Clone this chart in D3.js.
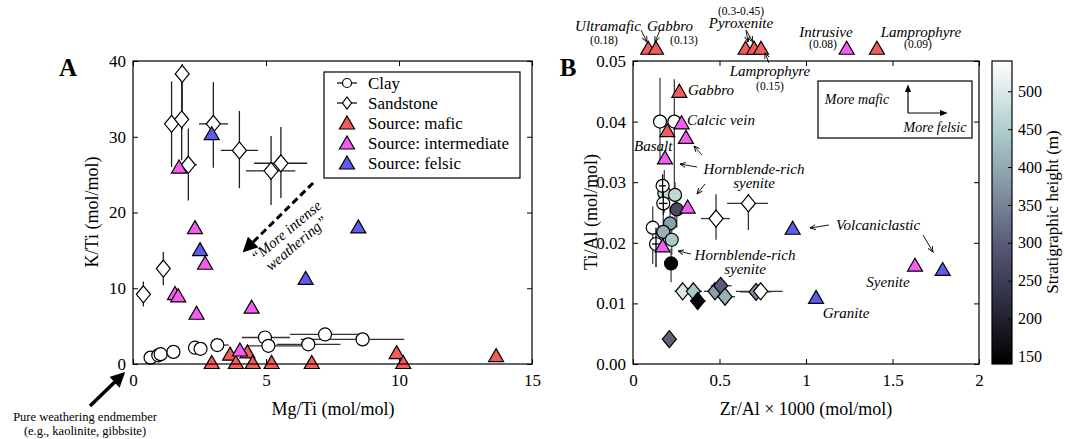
<!DOCTYPE html>
<html>
<head>
<meta charset="utf-8">
<script src="https://cdn.jsdelivr.net/npm/d3@7"></script>
<style>
  body { margin: 0; background: #fff; }
  text { font-family: "Liberation Serif", "Times New Roman", Times, "DejaVu Serif", serif; fill: #000; }
  .it { font-style: italic; }
</style>
</head>
<body>
<div class="chart"></div>
<script>
// ---- panel A : Mg/Ti vs K/Ti  [x, y, xLo, xHi, yLo, yHi]
let clayA = [
  [0.66, 0.84], [0.95, 1.15], [1.04, 1.3], [1.52, 1.6], [2.33, 2.15], [2.54, 2.0],
  [3.17, 2.5, 2.9, 3.6], [4.96, 3.5, 4.09, 5.9], [5.09, 2.4, 4.3, 6.4],
  [6.59, 2.6, 5.4, 7.8], [7.22, 3.9, 5.9, 8.5], [8.63, 3.25, 6.3, 10.2]
];
let sandA = [
  [0.39, 9.2, null, null, 7.6, 10.9],
  [1.14, 12.6, null, null, 10.4, 14.8],
  [1.45, 31.7, null, null, 26.0, 37.3],
  [1.83, 32.3, null, null, 26.9, 38.4],
  [1.85, 38.3, null, null, 31.0, 39.6],
  [2.08, 26.3, 1.9, 2.4, 21.6, 31.1],
  [3.02, 31.7, 2.48, 3.57, 25.9, 37.2],
  [4.0, 28.2, 3.3, 4.7, 23.2, 33.4],
  [5.19, 25.5, 4.25, 6.1, 21.0, 30.1],
  [5.56, 26.5, 4.55, 6.55, 21.9, 31.3]
];
let maficA = [[2.96, 0.2], [3.65, 1.3], [3.87, 0.2], [4.3, 1.6], [4.5, 0.2], [5.21, 0.2],
  [6.72, 0.2], [9.91, 1.5], [10.16, 0.2], [13.65, 1.1]];
let interA = [[1.73, 26.0], [2.33, 18.0], [2.71, 13.3], [1.58, 9.3], [1.7, 9.0], [2.39, 6.7],
  [4.46, 7.5], [4.02, 1.85]];
let felsicA = [[2.96, 30.4], [2.52, 15.1], [6.49, 11.3], [8.47, 18.1]];

// ---- panel B : Zr/Al*1000 vs Ti/Al  [x, y, stratHeight, xLo, xHi, yLo, yHi]
let clayB = [
  [0.156, 0.0400, 535, null, null, 0.0335, 0.0472],
  [0.239, 0.0400, 535, null, null, 0.0290, 0.0470],
  [0.181, 0.0282, 470, null, null, 0.0250, 0.0320],
  [0.243, 0.0279, 470, null, null, 0.0240, 0.0300],
  [0.253, 0.0255, 270, null, null, 0.0225, 0.0290],
  [0.114, 0.0225, 535, null, null, 0.0165, 0.0260],
  [0.214, 0.0232, 387, null, null, 0.0200, 0.0260],
  [0.175, 0.0218, 412, null, null, 0.0190, 0.0245],
  [0.224, 0.0205, 444, null, null, 0.0180, 0.0235],
  [0.220, 0.0166, 145, null, null, 0.0135, 0.0190]
];
let clayCrossB = [
  [0.171, 0.0294, 535, 0.150, 0.190, 0.0275, 0.0313],
  [0.175, 0.0265, 535, 0.150, 0.200, 0.0245, 0.0285],
  [0.133, 0.0198, 535, 0.110, 0.155, 0.0160, 0.0225]
];
let sandB = [
  [0.480, 0.0240, 540, 0.393, 0.560, 0.0205, 0.0280],
  [0.667, 0.0265, 540, 0.544, 0.780, 0.0221, 0.0281],
  [0.287, 0.0120, 500, 0.240, 0.330, 0.0108, 0.0132],
  [0.349, 0.0120, 440, 0.300, 0.400, 0.0108, 0.0132],
  [0.374, 0.0104, 150, 0.330, 0.420, 0.0095, 0.0113],
  [0.474, 0.0120, 387, 0.410, 0.550, 0.0107, 0.0135],
  [0.507, 0.0129, 300, 0.450, 0.570, 0.0117, 0.0141],
  [0.532, 0.0111, 412, 0.480, 0.590, 0.0100, 0.0122],
  [0.711, 0.0119, 360, 0.620, 0.800, 0.0110, 0.0128],
  [0.738, 0.0120, 540, 0.595, 0.865, 0.0110, 0.0131],
  [0.210, 0.0041, 308, null, null, null, null]
];
let maficB = [[0.268, 0.0450], [0.198, 0.0385],
  [0.088, 0.0521], [0.133, 0.0521], [0.651, 0.0521], [0.70, 0.0521], [0.74, 0.0521], [1.41, 0.0521]];
let interB = [[0.281, 0.0398], [0.306, 0.0374], [0.185, 0.0340], [0.316, 0.0259], [0.171, 0.0195],
  [1.63, 0.0163], [1.235, 0.0521]];
let felsicB = [[0.923, 0.0224], [1.058, 0.0110], [1.79, 0.0156]];

let xTicksA = [0, 5, 10, 15];
let yTicksA = [0, 10, 20, 30, 40];
let xTicksB = [0, 0.5, 1, 1.5, 2];
let yTicksB = [0, 0.01, 0.02, 0.03, 0.04, 0.05];
let cbTicks = [150, 200, 250, 300, 350, 400, 450, 500];
let heightRange = [140, 540];
let legendLabels = ['Clay', 'Sandstone', 'Source: mafic', 'Source: intermediate', 'Source: felsic'];

let colMafic = '#f35c5c', colInter = '#f55cf2', colFelsic = '#5c5ced';
let serif = '"Liberation Serif", "Times New Roman", Times, "DejaVu Serif", serif';

// matplotlib "bone" colormap
function bone(t) {
  t = Math.max(0, Math.min(1, t));
  let r = t < 0.746 ? 0.6528 * t / 0.746 : 0.6528 + (t - 0.746) * 0.3472 / 0.254;
  let g = t < 0.365 ? 0.3194 * t / 0.365
    : t < 0.746 ? 0.3194 + (t - 0.365) * 0.4584 / 0.381
    : 0.7778 + (t - 0.746) * 0.2222 / 0.254;
  let b = t < 0.365 ? 0.4444 * t / 0.365 : 0.4444 + (t - 0.365) * 0.5556 / 0.635;
  return d3.rgb(r * 255, g * 255, b * 255).formatHex();
}
let tScale = d3.scaleLinear().domain(heightRange).range([0, 1]);
let heightColor = h => bone(tScale(h));

let svg = d3.select('.chart')
  .append('svg')
  .attr('width', 1066)
  .attr('height', 439);

let defs = svg.append('defs');
defs.append('marker').attr('id', 'thin')
  .attr('viewBox', '0 0 10 10').attr('refX', 9).attr('refY', 5)
  .attr('markerWidth', 7).attr('markerHeight', 7).attr('orient', 'auto')
  .attr('markerUnits', 'userSpaceOnUse')
  .append('path').attr('d', 'M1,1.5 L9,5 L1,8.5')
  .attr('fill', 'none').attr('stroke', '#000').attr('stroke-width', 1.3);
defs.append('marker').attr('id', 'fat')
  .attr('viewBox', '0 0 10 10').attr('refX', 8).attr('refY', 5)
  .attr('markerWidth', 15).attr('markerHeight', 15).attr('orient', 'auto')
  .attr('markerUnits', 'userSpaceOnUse')
  .append('path').attr('d', 'M0,0 L10,5 L0,10 Z').attr('fill', '#000');
defs.append('marker').attr('id', 'small')
  .attr('viewBox', '0 0 10 10').attr('refX', 8).attr('refY', 5)
  .attr('markerWidth', 8).attr('markerHeight', 8).attr('orient', 'auto')
  .attr('markerUnits', 'userSpaceOnUse')
  .append('path').attr('d', 'M0,1 L10,5 L0,9 Z').attr('fill', '#000');

let grad = defs.append('linearGradient').attr('id', 'boneGrad')
  .attr('x1', 0).attr('y1', 1).attr('x2', 0).attr('y2', 0);
d3.range(0, 1.0001, 0.05).forEach(t => {
  grad.append('stop').attr('offset', t).attr('stop-color', bone(t));
});

// marker shapes
let triPath = 'M0,-7 L7.5,6 L-7.5,6 Z';
let diaPath = 'M0,-8.5 L7,0 L0,8.5 L-7,0 Z';

function errorBars(g, data, xs, ys, color) {
  data.forEach(d => {
    let n = d.length, xLo = null, xHi = null, yLo = null, yHi = null;
    if (n === 4 || n === 6) { xLo = d[2]; xHi = d[3]; }
    if (n === 6) { yLo = d[4]; yHi = d[5]; }
    if (n === 7) { xLo = d[3]; xHi = d[4]; yLo = d[5]; yHi = d[6]; }
    if (xLo != null) {
      g.append('line').attr('x1', xs(xLo)).attr('x2', xs(xHi))
        .attr('y1', ys(d[1])).attr('y2', ys(d[1]))
        .style('stroke', color).style('stroke-width', 1.3);
    }
    if (yLo != null) {
      g.append('line').attr('x1', xs(d[0])).attr('x2', xs(d[0]))
        .attr('y1', ys(yLo)).attr('y2', ys(yHi))
        .style('stroke', color).style('stroke-width', 1.3);
    }
  });
}

function marks(g, data, xs, ys, path, fill) {
  g.selectAll(null)
    .data(data)
    .enter()
    .append(path === 'circle' ? 'circle' : 'path')
    .each(function (d) {
      let s = d3.select(this);
      if (path === 'circle') s.attr('cx', xs(d[0])).attr('cy', ys(d[1])).attr('r', 6.5);
      else s.attr('d', path).attr('transform', `translate(${xs(d[0])},${ys(d[1])})`);
    })
    .style('fill', typeof fill === 'function' ? fill : () => fill)
    .style('stroke', '#000')
    .style('stroke-width', 1.2);
}

function frame(x, y, xTicks, yTicks, xFmt, yFmt) {
  let [x0, x1] = x.range(), [y0, y1] = y.range();
  let axB = svg.append('g').attr('transform', `translate(0,${y0})`)
    .call(d3.axisBottom(x).tickValues(xTicks).tickFormat(xFmt).tickSizeInner(-5).tickSizeOuter(0).tickPadding(10));
  let axT = svg.append('g').attr('transform', `translate(0,${y1})`)
    .call(d3.axisTop(x).tickValues(xTicks).tickFormat('').tickSizeInner(-5).tickSizeOuter(0));
  let axL = svg.append('g').attr('transform', `translate(${x0},0)`)
    .call(d3.axisLeft(y).tickValues(yTicks).tickFormat(yFmt).tickSizeInner(-5).tickSizeOuter(0).tickPadding(7));
  let axR = svg.append('g').attr('transform', `translate(${x1},0)`)
    .call(d3.axisRight(y).tickValues(yTicks).tickFormat('').tickSizeInner(-5).tickSizeOuter(0));
  [axB, axT, axL, axR].forEach(a => {
    a.attr('font-family', null);
    a.select('.domain').remove();
    a.selectAll('text').style('font-family', serif).style('font-size', '17px');
    a.selectAll('line').style('stroke', '#000');
  });
  svg.append('rect').attr('x', x0).attr('y', y1).attr('width', x1 - x0).attr('height', y0 - y1)
    .style('fill', 'none').style('stroke', '#000').style('stroke-width', 1.2);
}

function label(x, y, txt, size, cls, anchor) {
  return svg.append('text').attr('x', x).attr('y', y)
    .attr('class', cls || null)
    .style('font-family', serif)
    .style('font-size', size + 'px')
    .style('text-anchor', anchor || 'middle')
    .text(txt);
}

function arrow(x1, y1, x2, y2, head, w, dash) {
  return svg.append('line').attr('x1', x1).attr('y1', y1).attr('x2', x2).attr('y2', y2)
    .style('stroke', '#000').style('stroke-width', w || 1)
    .style('stroke-dasharray', dash || null)
    .attr('marker-end', `url(#${head})`);
}

// ================= panel A =================
let xA = d3.scaleLinear().domain([0, 15]).range([133, 532]);
let yA = d3.scaleLinear().domain([0, 40]).range([364, 61]);

let gA = svg.append('g');
errorBars(gA, sandA, xA, yA, '#222');
errorBars(gA, clayA, xA, yA, '#333');
marks(gA, sandA, xA, yA, diaPath, '#fff');
marks(gA, clayA, xA, yA, 'circle', '#fff');
marks(gA, maficA, xA, yA, triPath, colMafic);
marks(gA, interA, xA, yA, triPath, colInter);
marks(gA, felsicA, xA, yA, triPath, colFelsic);

frame(xA, yA, xTicksA, yTicksA, d3.format('d'), d3.format('d'));

// legend
let leg = svg.append('g');
leg.append('rect').attr('x', 324).attr('y', 72).attr('width', 196).attr('height', 106)
  .style('fill', '#fff').style('stroke', '#000').style('stroke-width', 1.2);
legendLabels.forEach((lab, i) => {
  let cy = 83 + i * 20;
  if (i < 2) {
    leg.append('line').attr('x1', 337).attr('x2', 357).attr('y1', cy).attr('y2', cy)
      .style('stroke', '#000').style('stroke-width', 1.2);
  }
  let m;
  if (i === 0) m = leg.append('circle').attr('cx', 347).attr('cy', cy).attr('r', 4.5);
  else if (i === 1) m = leg.append('path').attr('d', 'M0,-6 L4.5,0 L0,6 L-4.5,0 Z').attr('transform', `translate(347,${cy})`);
  else m = leg.append('path').attr('d', triPath).attr('transform', `translate(347,${cy})`);
  m.style('fill', ['#fff', '#fff', colMafic, colInter, colFelsic][i])
    .style('stroke', '#000').style('stroke-width', 1.2);
  leg.append('text').attr('x', 368).attr('y', cy + 6)
    .style('font-family', serif).style('font-size', '17px').text(lab);
});

// weathering arrow + note
arrow(xA(6.77), yA(23.9), xA(4.2), yA(15.0), 'fat', 3, '7,4');
let wt = svg.append('g').attr('transform', 'translate(292,238) rotate(-40)');
wt.append('text').attr('y', -4).attr('class', 'it').style('font-family', serif).style('font-size', '15px')
  .style('text-anchor', 'middle').text('\u201CMore intense');
wt.append('text').attr('y', 12).attr('class', 'it').style('font-family', serif).style('font-size', '15px')
  .style('text-anchor', 'middle').text('weathering\u201D');

arrow(90, 406, 123, 374, 'fat', 3.5);
label(85, 421, 'Pure weathering endmember', 12.5);
label(85, 435, '(e.g., kaolinite, gibbsite)', 12.5);

label(333, 415, 'Mg/Ti (mol/mol)', 18);
label(0, 0, 'K/Ti (mol/mol)', 18).attr('transform', 'translate(98,212) rotate(-90)');
label(68, 76, 'A', 25).style('font-weight', 'bold');

// ================= panel B =================
let xB = d3.scaleLinear().domain([0, 2]).range([633, 979]);
let yB = d3.scaleLinear().domain([0, 0.05]).range([364, 61]);

let gB = svg.append('g');
errorBars(gB, clayB, xB, yB, '#444');
marks(gB, clayB, xB, yB, 'circle', d => heightColor(d[2]));
marks(gB, clayCrossB, xB, yB, 'circle', d => heightColor(d[2]));
errorBars(gB, clayCrossB, xB, yB, '#000');
errorBars(gB, sandB, xB, yB, '#333');
marks(gB, sandB, xB, yB, diaPath, d => heightColor(d[2]));
marks(gB, maficB, xB, yB, triPath, colMafic);
marks(gB, interB, xB, yB, triPath, colInter);
marks(gB, felsicB, xB, yB, triPath, colFelsic);

frame(xB, yB, xTicksB, yTicksB, d3.format('~g'), d3.format('.2f'));

// inset box
svg.append('rect').attr('x', 818).attr('y', 81).attr('width', 154).attr('height', 57)
  .style('fill', '#fff').style('stroke', '#000').style('stroke-width', 1.2);
arrow(908, 113, 908, 86, 'small', 1.2);
arrow(908, 113, 946, 113, 'small', 1.2);
label(857, 104, 'More mafic', 14, 'it');
label(935, 132, 'More felsic', 14, 'it');

// annotations above the axes
label(608, 31, 'Ultramafic', 15, 'it');
label(604, 44, '(0.18)', 11.5);
label(670, 31, 'Gabbro', 15, 'it');
label(684, 44, '(0.13)', 11.5);
arrow(641, 30, 647, 42, 'thin', 0.9);
arrow(660, 30, 655, 42, 'thin', 0.9);
label(741, 15, '(0.3-0.45)', 11.5);
label(741, 28, 'Pyroxenite', 15, 'it');
arrow(746, 30, 748, 42, 'thin', 0.9);
arrow(746, 30, 753, 42, 'thin', 0.9);
label(826, 37, 'Intrusive', 15, 'it');
label(823, 48, '(0.08)', 11.5);
label(921, 37, 'Lamprophyre', 15, 'it');
label(918, 48, '(0.09)', 11.5);
label(770, 76, 'Lamprophyre', 15, 'it');
label(770, 90, '(0.15)', 11.5);
arrow(769, 63, 765, 53, 'thin', 0.9);

// annotations inside panel B
label(688, 95, 'Gabbro', 15, 'it', 'start');
label(687, 125, 'Calcic vein', 15, 'it', 'start');
label(634, 151, 'Basalt', 15, 'it', 'start');
label(754, 174, 'Hornblende-rich', 15, 'it');
label(754, 188, 'syenite', 15, 'it');
arrow(702, 155, 694, 146, 'thin', 0.9);
arrow(697, 167, 680, 164, 'thin', 0.9);
arrow(705, 184, 697, 194, 'thin', 0.9);
label(745, 260, 'Hornblende-rich', 15, 'it');
label(745, 274, 'syenite', 15, 'it');
arrow(691, 254, 678, 251, 'thin', 0.9);
label(836, 230, 'Volcaniclastic', 15, 'it', 'start');
arrow(829, 225, 810, 228, 'thin', 0.9);
arrow(923, 235, 933, 252, 'thin', 0.9);
label(888, 287, 'Syenite', 15, 'it');
label(846, 318, 'Granite', 15, 'it');

label(806, 415, 'Zr/Al \u00D7 1000 (mol/mol)', 18);
label(0, 0, 'Ti/Al (mol/mol)', 18).attr('transform', 'translate(597,212) rotate(-90)');
label(568, 76, 'B', 25).style('font-weight', 'bold');

// ================= colourbar =================
let cbY = d3.scaleLinear().domain(heightRange).range([364, 61]);
svg.append('rect').attr('x', 992).attr('y', 61).attr('width', 20).attr('height', 303)
  .style('fill', 'url(#boneGrad)').style('stroke', '#000').style('stroke-width', 1.2);
let cbAxis = svg.append('g').attr('transform', 'translate(1012,0)')
  .call(d3.axisRight(cbY).tickValues(cbTicks).tickSizeInner(-4).tickSizeOuter(0).tickPadding(6));
cbAxis.attr('font-family', null);
cbAxis.select('.domain').remove();
cbAxis.selectAll('text').style('font-family', serif).style('font-size', '16px');
label(0, 0, 'Stratigraphic height (m)', 17).attr('transform', 'translate(1058,212) rotate(-90)');
</script>
</body>
</html>
